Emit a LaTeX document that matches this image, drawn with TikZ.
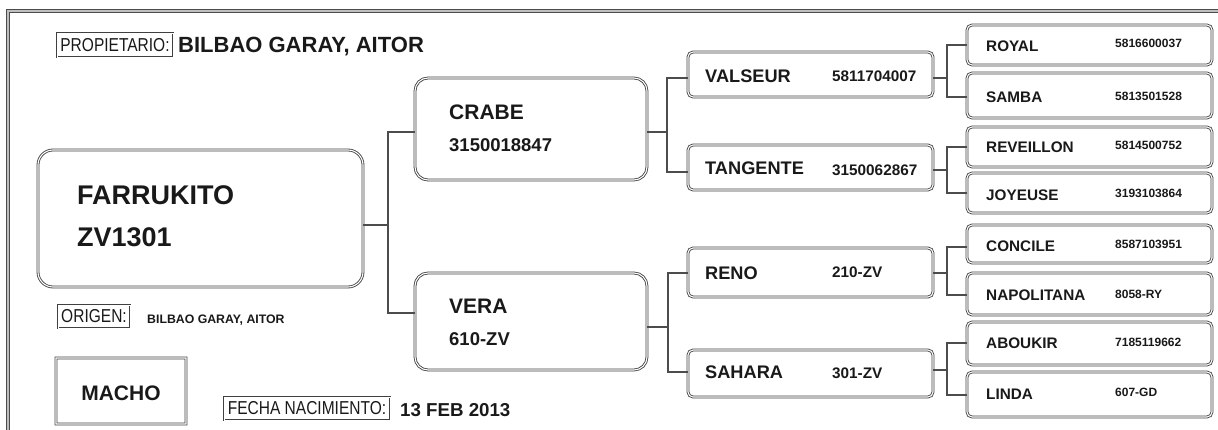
\documentclass[tikz,border=0pt]{standalone}
\usepackage{fontspec}
\setmainfont{Liberation Sans}
\newfontfamily\narrowfont[FakeStretch=0.83]{Liberation Sans}
\begin{document}
\begin{tikzpicture}[x=1pt,y=-1pt,
  dbl/.style={draw=black!75,double=white,double distance=1.1pt,line width=0.85pt,inner sep=0pt},
  bigbox/.style={dbl,rounded corners=13pt,minimum width=232pt},
  midbox/.style={dbl,rounded corners=5pt,minimum width=245pt},
  smallbox/.style={dbl,rounded corners=5pt,minimum width=245pt},
  lab/.style={draw=black!75,double=white,double distance=0.8pt,line width=0.6pt,inner sep=0pt,
    text=black!90,font=\narrowfont\fontsize{18.7pt}{18.7pt}\selectfont},
  t/.style={anchor=base west,inner sep=0pt,text=black!90,font=\bfseries\fontsize{#1pt}{#1pt}\selectfont},
  conn/.style={draw=black!70,line width=2.2pt},
  frame/.style={draw=black!70,double=black!25,double distance=1.2pt,line width=1pt}]
\useasboundingbox (0,0) rectangle (1218,430);
\draw[frame] (8,430) -- (8,11) -- (1218,11);

% header / labels
\node[lab,minimum width=116pt,minimum height=24pt] (prop) at (115,45) {PROPIETARIO:};
\node[t=22] (propn) at (178,52.9) {BILBAO GARAY, AITOR};
\node[lab,minimum width=72pt,minimum height=23pt] (orig) at (94,316.5) {ORIGEN:};
\node[t=12.3] (orign) at (147,323.4) {BILBAO GARAY, AITOR};
\fill[black!75,even odd rule] (54.6,356.6) rectangle (187.4,425.4) (57.4,359.4) rectangle (184.6,422.6);
\fill[white,even odd rule] (55.45,357.45) rectangle (186.55,424.55) (56.55,358.55) rectangle (185.45,423.45);
\node[inner sep=0pt,text=black!90,font=\bfseries\fontsize{21pt}{21pt}\selectfont] (macho) at (121,393) {MACHO};
\node[lab,minimum width=166pt,minimum height=23pt] (fecha) at (307,408.5) {FECHA NACIMIENTO:};
\node[t=18.7] (fechan) at (400,416.5) {13 FEB 2013};

% subject
\node[bigbox,rounded corners=15pt,minimum width=325pt,minimum height=137pt] (farr) at (200.5,218.5) {};
\node[t=27] (farrn) at (77,205) {FARRUKITO};
\node[t=27] (farrc) at (77,247) {ZV1301};

% parents
\node[bigbox,minimum height=102pt] (crabe) at (531,129) {};
\node[t=21] (craben) at (449,119.5) {CRABE};
\node[t=18.5] (crabec) at (449,151.6) {3150018847};
\node[bigbox,minimum height=97pt] (vera) at (531,321.5) {};
\node[t=21] (veran) at (449,313.5) {VERA};
\node[t=18.5] (verac) at (449,345.6) {610-ZV};

% grandparents
\node[midbox,minimum height=45pt] (valseur) at (810.5,74.5) {};
\node[t=18.2] (valseurn) at (705,82.5) {VALSEUR};
\node[t=15.3] (valseurc) at (832,81.5) {5811704007};
\node[midbox,minimum height=45pt] (tangente) at (810.5,167.5) {};
\node[t=18.2] (tangenten) at (705,174.5) {TANGENTE};
\node[t=15.3] (tangentec) at (832,175.5) {3150062867};
\node[midbox,minimum height=49pt] (reno) at (810.5,272.5) {};
\node[t=18.2] (renon) at (705,279.5) {RENO};
\node[t=15.3] (renoc) at (832,277.5) {210-ZV};
\node[midbox,minimum height=47pt] (sahara) at (810.5,373.5) {};
\node[t=18.2] (saharan) at (705,378.5) {SAHARA};
\node[t=15.3] (saharac) at (832,378.5) {301-ZV};

% great-grandparents
\node[smallbox,minimum height=40pt] (royal) at (1089.5,45) {};
\node[t=15.3] (royaln) at (986,51.5) {ROYAL};
\node[t=12] (royalc) at (1115,47.3) {5816600037};
\node[smallbox,minimum height=45pt] (samba) at (1089.5,95.5) {};
\node[t=15.3] (samban) at (986,102.5) {SAMBA};
\node[t=12] (sambac) at (1115,100.3) {5813501528};
\node[smallbox,minimum height=40pt] (reveillon) at (1089.5,147) {};
\node[t=15.3] (reveillonn) at (986,152.5) {REVEILLON};
\node[t=12] (reveillonc) at (1115,149.3) {5814500752};
\node[smallbox,minimum height=40pt] (joyeuse) at (1089.5,193) {};
\node[t=15.3] (joyeusen) at (986,200.5) {JOYEUSE};
\node[t=12] (joyeusec) at (1115,197.3) {3193103864};
\node[smallbox,minimum height=38pt] (concile) at (1089.5,244) {};
\node[t=15.3] (concilen) at (986,251.5) {CONCILE};
\node[t=12] (concilec) at (1115,248.3) {8587103951};
\node[smallbox,minimum height=42pt] (napolitana) at (1089.5,294) {};
\node[t=15.3] (napolitanan) at (986,300.5) {NAPOLITANA};
\node[t=12] (napolitanac) at (1115,298.3) {8058-RY};
\node[smallbox,minimum height=43pt] (aboukir) at (1089.5,343.5) {};
\node[t=15.3] (aboukirn) at (986,348.5) {ABOUKIR};
\node[t=12] (aboukirc) at (1115,346.3) {7185119662};
\node[smallbox,minimum height=45pt] (linda) at (1089.5,394.5) {};
\node[t=15.3] (lindan) at (986,399.5) {LINDA};
\node[t=12] (lindac) at (1115,396.3) {607-GD};

% connectors
\coordinate (j0) at (388,225); \coordinate (jA) at (388,132); \coordinate (jB) at (388,313);
\draw[conn] (farr.east|-j0) -- (j0);
\draw[conn] (crabe.west|-jA) -- (jA) -- (jB) -- (vera.west|-jB);

\coordinate (k0) at (667,132); \coordinate (kA) at (667,78); \coordinate (kB) at (667,172);
\draw[conn] (crabe.east|-k0) -- (k0);
\draw[conn] (valseur.west|-kA) -- (kA) -- (kB) -- (tangente.west|-kB);

\coordinate (l0) at (668,327); \coordinate (lA) at (668,273); \coordinate (lB) at (668,372);
\draw[conn] (vera.east|-l0) -- (l0);
\draw[conn] (reno.west|-lA) -- (lA) -- (lB) -- (sahara.west|-lB);

\coordinate (m0) at (947,78); \coordinate (mA) at (947,45); \coordinate (mB) at (947,97);
\draw[conn] (valseur.east|-m0) -- (m0);
\draw[conn] (royal.west|-mA) -- (mA) -- (mB) -- (samba.west|-mB);

\coordinate (n0) at (947,170); \coordinate (nA) at (947,147); \coordinate (nB) at (947,193);
\draw[conn] (tangente.east|-n0) -- (n0);
\draw[conn] (reveillon.west|-nA) -- (nA) -- (nB) -- (joyeuse.west|-nB);

\coordinate (o0) at (947,273); \coordinate (oA) at (947,247); \coordinate (oB) at (947,295);
\draw[conn] (reno.east|-o0) -- (o0);
\draw[conn] (concile.west|-oA) -- (oA) -- (oB) -- (napolitana.west|-oB);

\coordinate (p0) at (947,370); \coordinate (pA) at (947,343); \coordinate (pB) at (947,395);
\draw[conn] (sahara.east|-p0) -- (p0);
\draw[conn] (aboukir.west|-pA) -- (pA) -- (pB) -- (linda.west|-pB);
\end{tikzpicture}
\end{document}
